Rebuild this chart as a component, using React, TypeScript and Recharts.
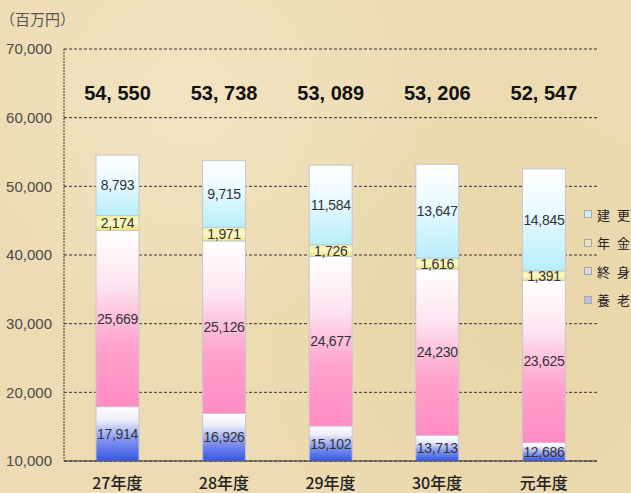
import React from "react";
import { BarChart, Bar, XAxis, YAxis, CartesianGrid, LabelList } from "recharts";

// 共済の保有契約高（百万円）
const categories = ["27年度", "28年度", "29年度", "30年度", "元年度"];
const yoro = [17914, 16926, 15102, 13713, 12686];    // 養老
const shushin = [25669, 25126, 24677, 24230, 23625]; // 終身
const nenkin = [2174, 1971, 1726, 1616, 1391];       // 年金
const kenko = [8793, 9715, 11584, 13647, 14845];     // 建更
const yTicks = [10000, 20000, 30000, 40000, 50000, 60000, 70000];

const legendItems = [
  { label: "建 更", color: "#d4ecf0" },
  { label: "年 金", color: "#e8e4b8" },
  { label: "終 身", color: "#e4d4dc" },
  { label: "養 老", color: "#b8bedc" },
];

const W = 631;
const H = 493;
const X_AXIS_H = 30;
const MARGIN = { top: 49, right: 34, bottom: 2, left: 0 };
const PLOT_BOTTOM = H - MARGIN.bottom - X_AXIS_H;
const TOTAL_Y = 93;
const NUM_FONT = "'Liberation Sans', Arial, sans-serif";
const JP_FONT = "'Noto Sans CJK JP', sans-serif";

const data = categories.map((c, i) => ({
  name: c,
  yoro: yoro[i],
  shushin: shushin[i],
  nenkin: nenkin[i],
  kenko: kenko[i],
  total: yoro[i] + shushin[i] + nenkin[i] + kenko[i],
}));

// bars start at 0 but the axis starts at 10,000 -> clamp to plot bottom
function Segment(props: any) {
  const { x, y, width, height, fill } = props;
  const bottom = Math.min(y + height, PLOT_BOTTOM);
  const h = bottom - y;
  if (!(h > 0)) return null;
  return <rect x={x} y={y} width={width} height={h} fill={fill} stroke="#c3c6d2" strokeWidth={1} />;
}

function SegLabel(props: any) {
  const { x, y, width, height, value } = props;
  const bottom = Math.min(y + height, PLOT_BOTTOM);
  return (
    <text x={x + width / 2} y={(y + bottom) / 2} dy="0.36em" textAnchor="middle"
      fontSize={14} fill="#333" fontFamily={NUM_FONT} letterSpacing={-0.3}>
      {Number(value).toLocaleString("en-US")}
    </text>
  );
}

function TotalLabel(props: any) {
  const { x, width, value } = props;
  return (
    <text x={x + width / 2} y={TOTAL_Y} dy="0.36em" textAnchor="middle"
      fontSize={20} fontWeight="bold" fill="#111" fontFamily={NUM_FONT}>
      {Number(value).toLocaleString("en-US").replace(",", ", ")}
    </text>
  );
}

function XTick(props: any) {
  const { x, y, payload } = props;
  return (
    <text x={x} y={y + 20} textAnchor="middle" fontSize={16} fontWeight={500} fill="#222" fontFamily={JP_FONT}>
      {payload.value}
    </text>
  );
}

function YTick(props: any) {
  const { y, payload } = props;
  return (
    <text x={52} y={y} dy="0.36em" textAnchor="end" fontSize={15} fill="#4a4a4a" fontFamily={NUM_FONT}>
      {Number(payload.value).toLocaleString("en-US")}
    </text>
  );
}

function LegendBox() {
  return (
    <div style={{ position: "absolute", left: 584, top: 200, fontFamily: JP_FONT, fontSize: 13, color: "#222" }}>
      {legendItems.map((it) => (
        <div key={it.label} style={{ display: "flex", alignItems: "center", height: 28.5 }}>
          <span style={{ width: 6, height: 6, background: it.color, border: "1px solid #a8a8a8", marginRight: 5 }} />
          <span style={{ whiteSpace: "pre", letterSpacing: 2 }}>{it.label}</span>
        </div>
      ))}
    </div>
  );
}

export default function App() {
  return (
    <div style={{
      width: W, height: H, position: "relative", overflow: "hidden",
      background: "radial-gradient(circle at 30% 20%, #f2e4c2 0%, rgba(242,228,194,0) 40%), radial-gradient(circle at 80% 70%, #e8d5a8 0%, rgba(232,213,168,0) 45%), #eddcb3",
    }}>
      <style>{`body{margin:0}`}</style>
      <div style={{ position: "absolute", left: 0, top: 8, fontSize: 15, color: "#555", fontFamily: JP_FONT }}>
        （百万円）
      </div>
      <BarChart width={W} height={H} data={data} margin={MARGIN} barSize={43}>
        <defs>
          <linearGradient id="gBlue" x1="0" y1="0" x2="0" y2="1">
            <stop offset="0" stopColor="#ffffff" />
            <stop offset="0.25" stopColor="#eceefa" />
            <stop offset="0.6" stopColor="#8496f0" />
            <stop offset="1" stopColor="#3456e6" />
          </linearGradient>
          <linearGradient id="gPink" x1="0" y1="0" x2="0" y2="1">
            <stop offset="0" stopColor="#ffffff" />
            <stop offset="0.3" stopColor="#fde6f1" />
            <stop offset="0.65" stopColor="#ffa2cc" />
            <stop offset="1" stopColor="#ff8cc2" />
          </linearGradient>
          <linearGradient id="gYellow" x1="0" y1="0" x2="0" y2="1">
            <stop offset="0" stopColor="#f4f0a0" />
            <stop offset="0.5" stopColor="#fbf8c8" />
            <stop offset="1" stopColor="#eee67c" />
          </linearGradient>
          <linearGradient id="gCyan" x1="0" y1="0" x2="0" y2="1">
            <stop offset="0" stopColor="#ffffff" />
            <stop offset="0.35" stopColor="#eefbfe" />
            <stop offset="1" stopColor="#b8eefa" />
          </linearGradient>
        </defs>
        <CartesianGrid vertical={false} stroke="#333" strokeDasharray="3 2" />
        <XAxis dataKey="name" height={X_AXIS_H} tick={<XTick />} tickLine={false}
          axisLine={{ stroke: "#333" }} />
        <YAxis width={64} domain={[10000, 70000]} ticks={yTicks} allowDataOverflow
          tick={<YTick />} tickLine={false}
          axisLine={{ stroke: "#333", strokeDasharray: "2 1" }} />
        <Bar dataKey="yoro" stackId="a" fill="url(#gBlue)" shape={<Segment />} isAnimationActive={false}>
          <LabelList dataKey="yoro" content={<SegLabel />} />
        </Bar>
        <Bar dataKey="shushin" stackId="a" fill="url(#gPink)" shape={<Segment />} isAnimationActive={false}>
          <LabelList dataKey="shushin" content={<SegLabel />} />
        </Bar>
        <Bar dataKey="nenkin" stackId="a" fill="url(#gYellow)" shape={<Segment />} isAnimationActive={false}>
          <LabelList dataKey="nenkin" content={<SegLabel />} />
        </Bar>
        <Bar dataKey="kenko" stackId="a" fill="url(#gCyan)" shape={<Segment />} isAnimationActive={false}>
          <LabelList dataKey="kenko" content={<SegLabel />} />
          <LabelList dataKey="total" content={<TotalLabel />} />
        </Bar>
      </BarChart>
      <LegendBox />
    </div>
  );
}
